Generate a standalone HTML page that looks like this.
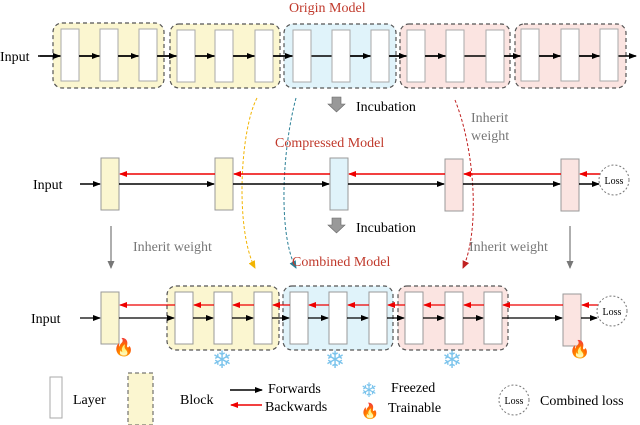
<!DOCTYPE html>
<html><head><meta charset="utf-8"><style>html,body{margin:0;padding:0;background:#fff}svg{display:block}text{font-family:"Liberation Serif",serif}</style></head>
<body>
<svg width="640" height="425" viewBox="0 0 640 425" xmlns="http://www.w3.org/2000/svg">
<defs>
<marker id="ab" markerWidth="8" markerHeight="6" refX="7" refY="3" orient="auto" markerUnits="userSpaceOnUse"><path d="M0,0 L8,3 L0,6 z" fill="#000"/></marker>
<marker id="ar" markerWidth="8" markerHeight="6" refX="7" refY="3" orient="auto" markerUnits="userSpaceOnUse"><path d="M0,0 L8,3 L0,6 z" fill="#e00"/></marker>
<marker id="ag" markerWidth="8" markerHeight="7" refX="7" refY="3.5" orient="auto" markerUnits="userSpaceOnUse"><path d="M0,0 L8,3.5 L0,7 z" fill="#777"/></marker>
<marker id="ay" markerWidth="8" markerHeight="7" refX="7" refY="3.5" orient="auto" markerUnits="userSpaceOnUse"><path d="M0,0 L8,3.5 L0,7 z" fill="#f2b400"/></marker>
<marker id="at" markerWidth="8" markerHeight="7" refX="7" refY="3.5" orient="auto" markerUnits="userSpaceOnUse"><path d="M0,0 L8,3.5 L0,7 z" fill="#2a7f96"/></marker>
<marker id="ad" markerWidth="8" markerHeight="7" refX="7" refY="3.5" orient="auto" markerUnits="userSpaceOnUse"><path d="M0,0 L8,3.5 L0,7 z" fill="#c02020"/></marker>
</defs>

<g stroke="#555" stroke-width="1.2" stroke-dasharray="4,3">
<rect x="53" y="23" width="111" height="65" rx="9" fill="#fbf6d0"/>
<rect x="170" y="24" width="110" height="64" rx="9" fill="#fbf6d0"/>
<rect x="284" y="24" width="112" height="64" rx="9" fill="#e0f3fa"/>
<rect x="400" y="24" width="110" height="64" rx="9" fill="#fbe4e1"/>
<rect x="515" y="24" width="111" height="64" rx="9" fill="#fbe4e1"/>
</g>
<line x1="38" y1="56" x2="636" y2="56" stroke="#000" stroke-width="1.5" marker-end="url(#ab)"/>
<g fill="#fff" stroke="#aaa" stroke-width="1">
<rect x="61" y="29" width="18" height="52"/><rect x="100" y="29" width="18" height="52"/><rect x="139" y="29" width="18" height="52"/>
<rect x="177" y="30" width="18" height="52"/><rect x="215" y="30" width="18" height="52"/><rect x="255" y="30" width="18" height="52"/>
<rect x="293" y="30" width="18" height="52"/><rect x="332" y="30" width="18" height="52"/><rect x="371" y="30" width="18" height="52"/>
<rect x="407" y="30" width="18" height="52"/><rect x="446" y="30" width="18" height="52"/><rect x="486" y="30" width="18" height="52"/>
<rect x="521" y="29" width="18" height="52"/><rect x="561" y="29" width="18" height="52"/><rect x="600" y="29" width="18" height="52"/>
</g>
<g stroke="#000" stroke-width="1.5">
<line x1="40" y1="56" x2="60" y2="56" marker-end="url(#ab)"/>
<line x1="79" y1="56" x2="99" y2="56" marker-end="url(#ab)"/><line x1="118" y1="56" x2="138" y2="56" marker-end="url(#ab)"/>
<line x1="157" y1="56" x2="176" y2="56" marker-end="url(#ab)"/><line x1="195" y1="56" x2="214" y2="56" marker-end="url(#ab)"/>
<line x1="233" y1="56" x2="254" y2="56" marker-end="url(#ab)"/><line x1="273" y1="56" x2="292" y2="56" marker-end="url(#ab)"/>
<line x1="350" y1="56" x2="370" y2="56" marker-end="url(#ab)"/><line x1="389" y1="56" x2="406" y2="56" marker-end="url(#ab)"/>
<line x1="425" y1="56" x2="445" y2="56" marker-end="url(#ab)"/><line x1="504" y1="56" x2="520" y2="56" marker-end="url(#ab)"/>
<line x1="539" y1="56" x2="560" y2="56" marker-end="url(#ab)"/><line x1="579" y1="56" x2="599" y2="56" marker-end="url(#ab)"/>
</g>
<text x="0" y="61" font-size="14">Input</text>
<text x="289" y="12" font-size="14" fill="#c0392b">Origin Model</text>

<g fill="#999" stroke="#666" stroke-width="0.6">
<path d="M332,97 h9 v7 h4 l-8.5,8 l-8.5,-8 h4 z"/>
<path d="M332,218 h9 v7 h4 l-8.5,8 l-8.5,-8 h4 z"/>
</g>
<text x="356" y="111" font-size="14">Incubation</text>
<text x="356" y="232" font-size="14">Incubation</text>

<path d="M257,98 C240,130 235,230 255,268" fill="none" stroke="#f2b400" stroke-width="1" stroke-dasharray="3,2" marker-end="url(#ay)"/>
<path d="M296,98 C282,150 278,235 296,268" fill="none" stroke="#2a7f96" stroke-width="1" stroke-dasharray="3,2" marker-end="url(#at)"/>
<path d="M455,100 C475,150 480,230 463,268" fill="none" stroke="#c02020" stroke-width="1" stroke-dasharray="3,2" marker-end="url(#ad)"/>

<text x="275" y="147" font-size="14" fill="#c0392b">Compressed Model</text>
<text x="471" y="122" font-size="14" fill="#777">Inherit</text>
<text x="471" y="140" font-size="14" fill="#777">weight</text>
<text x="33" y="189" font-size="14">Input</text>
<g stroke="#999" stroke-width="1">
<rect x="101" y="158" width="18" height="52" fill="#fbf6d0"/>
<rect x="215" y="158" width="18" height="52" fill="#fbf6d0"/>
<rect x="330" y="158" width="18" height="52" fill="#e0f3fa"/>
<rect x="445" y="159" width="18" height="52" fill="#fbe4e1"/>
<rect x="561" y="159" width="18" height="52" fill="#fbe4e1"/>
</g>
<g stroke="#000" stroke-width="1.5">
<line x1="80" y1="184" x2="100" y2="184" marker-end="url(#ab)"/>
<line x1="119" y1="184" x2="214" y2="184" marker-end="url(#ab)"/>
<line x1="233" y1="184" x2="329" y2="184" marker-end="url(#ab)"/>
<line x1="348" y1="184" x2="444" y2="184" marker-end="url(#ab)"/>
<line x1="463" y1="184" x2="560" y2="184" marker-end="url(#ab)"/>
<line x1="579" y1="184" x2="599" y2="184" marker-end="url(#ab)"/>
</g>
<g stroke="#e00" stroke-width="1.5">
<line x1="600" y1="174" x2="580" y2="174" marker-end="url(#ar)"/>
<line x1="561" y1="174" x2="464" y2="174" marker-end="url(#ar)"/>
<line x1="445" y1="174" x2="349" y2="174" marker-end="url(#ar)"/>
<line x1="330" y1="174" x2="234" y2="174" marker-end="url(#ar)"/>
<line x1="215" y1="174" x2="120" y2="174" marker-end="url(#ar)"/>
</g>
<circle cx="614" cy="180" r="15" fill="#fff" stroke="#777" stroke-dasharray="2,2"/>
<text x="614" y="184" font-size="10" text-anchor="middle">Loss</text>

<line x1="111" y1="226" x2="111" y2="268" stroke="#777" stroke-width="1.2" marker-end="url(#ag)"/>
<line x1="570" y1="226" x2="570" y2="268" stroke="#777" stroke-width="1.2" marker-end="url(#ag)"/>
<text x="133" y="251" font-size="14" fill="#777">Inherit weight</text>
<text x="469" y="251" font-size="14" fill="#777">Inherit weight</text>
<text x="292" y="266" font-size="14" fill="#c0392b">Combined Model</text>

<g stroke="#555" stroke-width="1.2" stroke-dasharray="4,3">
<rect x="167" y="286" width="112" height="64" rx="9" fill="#fbf6d0"/>
<rect x="283" y="286" width="110" height="64" rx="9" fill="#e0f3fa"/>
<rect x="398" y="286" width="110" height="64" rx="9" fill="#fbe4e1"/>
</g>
<g stroke="#999" stroke-width="1">
<rect x="101" y="292" width="18" height="52" fill="#fbf6d0"/>
<rect x="175" y="292" width="18" height="52" fill="#fff"/><rect x="214" y="292" width="18" height="52" fill="#fff"/><rect x="254" y="292" width="18" height="52" fill="#fff"/>
<rect x="290" y="292" width="18" height="52" fill="#fff"/><rect x="329" y="292" width="18" height="52" fill="#fff"/><rect x="369" y="292" width="18" height="52" fill="#fff"/>
<rect x="405" y="292" width="18" height="52" fill="#fff"/><rect x="445" y="292" width="18" height="52" fill="#fff"/><rect x="484" y="292" width="18" height="52" fill="#fff"/>
<rect x="563" y="294" width="18" height="52" fill="#fbe4e1"/>
</g>
<text x="31" y="323" font-size="14">Input</text>
<g stroke="#000" stroke-width="1.3">
<line x1="80" y1="318" x2="100" y2="318" marker-end="url(#ab)"/>
<line x1="119" y1="318" x2="174" y2="318" marker-end="url(#ab)"/>
<line x1="193" y1="318" x2="213" y2="318" marker-end="url(#ab)"/>
<line x1="232" y1="318" x2="253" y2="318" marker-end="url(#ab)"/>
<line x1="272" y1="318" x2="289" y2="318" marker-end="url(#ab)"/>
<line x1="308" y1="318" x2="328" y2="318" marker-end="url(#ab)"/>
<line x1="347" y1="318" x2="368" y2="318" marker-end="url(#ab)"/>
<line x1="387" y1="318" x2="404" y2="318" marker-end="url(#ab)"/>
<line x1="423" y1="318" x2="444" y2="318" marker-end="url(#ab)"/>
<line x1="463" y1="318" x2="483" y2="318" marker-end="url(#ab)"/>
<line x1="502" y1="318" x2="562" y2="318" marker-end="url(#ab)"/>
<line x1="581" y1="318" x2="597" y2="318" marker-end="url(#ab)"/>
</g>
<g stroke="#e00" stroke-width="1.3">
<line x1="598" y1="305" x2="582" y2="305" marker-end="url(#ar)"/>
<line x1="563" y1="305" x2="503" y2="305" marker-end="url(#ar)"/>
<line x1="484" y1="305" x2="464" y2="305" marker-end="url(#ar)"/>
<line x1="445" y1="305" x2="424" y2="305" marker-end="url(#ar)"/>
<line x1="405" y1="305" x2="388" y2="305" marker-end="url(#ar)"/>
<line x1="369" y1="305" x2="348" y2="305" marker-end="url(#ar)"/>
<line x1="329" y1="305" x2="309" y2="305" marker-end="url(#ar)"/>
<line x1="290" y1="305" x2="273" y2="305" marker-end="url(#ar)"/>
<line x1="254" y1="305" x2="233" y2="305" marker-end="url(#ar)"/>
<line x1="214" y1="305" x2="194" y2="305" marker-end="url(#ar)"/>
<line x1="175" y1="305" x2="120" y2="305" marker-end="url(#ar)"/>
</g>
<circle cx="612" cy="311" r="15" fill="#fff" stroke="#777" stroke-dasharray="2,2"/>
<text x="612" y="315" font-size="10" text-anchor="middle">Loss</text>
<g font-size="24" fill="#7cc4ec" text-anchor="middle">
<text x="222" y="368">❄</text><text x="335" y="368">❄</text><text x="452" y="368">❄</text>
</g>
<g font-size="17" fill="#f05a14" text-anchor="middle">
<text x="124" y="353">🔥</text><text x="580" y="355">🔥</text>
</g>

<rect x="50" y="377" width="12" height="41" fill="#fff" stroke="#aaa"/>
<text x="73" y="404" font-size="14">Layer</text>
<rect x="128" y="373" width="25" height="52" fill="#fbf6d0" stroke="#555" stroke-dasharray="4,3"/>
<text x="180" y="404" font-size="14">Block</text>
<line x1="230" y1="390" x2="262" y2="390" stroke="#000" stroke-width="1.5" marker-end="url(#ab)"/>
<line x1="262" y1="405" x2="231" y2="405" stroke="#e00" stroke-width="1.5" marker-end="url(#ar)"/>
<text x="268" y="393" font-size="14">Forwards</text>
<text x="265" y="411" font-size="14">Backwards</text>
<text x="369" y="397" font-size="20" fill="#7cc4ec" text-anchor="middle">❄</text>
<text x="370" y="416" font-size="15" fill="#f05a14" text-anchor="middle">🔥</text>
<text x="391" y="392" font-size="14">Freezed</text>
<text x="388" y="412" font-size="14">Trainable</text>
<circle cx="514" cy="400" r="15" fill="#fff" stroke="#777" stroke-dasharray="2,2"/>
<text x="514" y="404" font-size="10" text-anchor="middle">Loss</text>
<text x="540" y="405" font-size="14">Combined loss</text>
</svg>
</body></html>
